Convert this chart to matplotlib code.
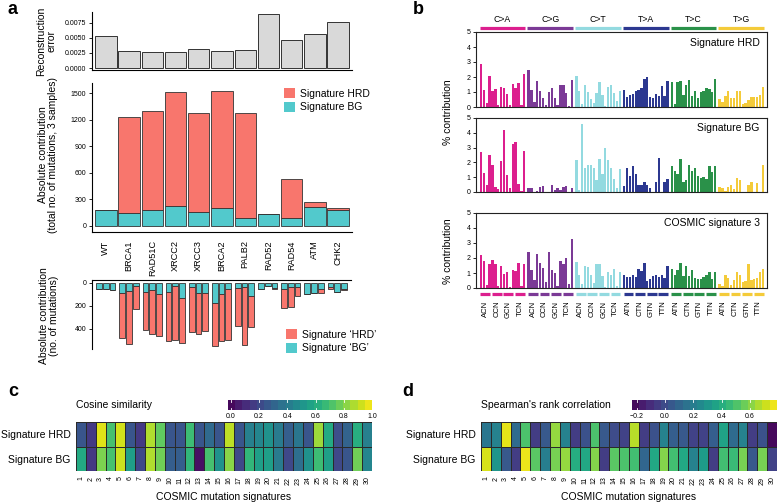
import numpy as np
import matplotlib
matplotlib.use('Agg')
import matplotlib.pyplot as plt
from matplotlib.patches import Patch
import matplotlib.transforms as mtrans

plt.rcParams['font.family'] = ['Liberation Sans', 'DejaVu Sans']

# ---------------- data ----------------
genes = ['WT', 'BRCA1', 'RAD51C', 'XRCC2', 'XRCC3', 'BRCA2', 'PALB2', 'RAD52', 'RAD54', 'ATM', 'CHK2']
recon_error = [0.0053, 0.0028, 0.0027, 0.0027, 0.0032, 0.0029, 0.0030, 0.0089, 0.0047, 0.0056, 0.0077]
total_bg = [180, 150, 185, 225, 155, 200, 95, 130, 85, 210, 175]
total_hrd = [0, 1080, 1120, 1290, 1125, 1330, 1180, 0, 445, 60, 30]

sample_bg = [57, 60, 62, 95, 75, 34, 80, 66, 100, 86, 34, 138, 37, 95, 95, 181, 100, 52,
             46, 43, 115, 52, 29, 49, 57, 43, 37, 100, 95, 52, 43, 86, 52]
sample_hrd = [0, 0, 4, 387, 456, 198, 336, 379, 362, 425, 468, 384, 390, 350, 327, 367, 405, 447,
              327, 497, 267, 0, 0, 3, 164, 167, 78, 0, 0, 43, 14, 0, 14]

mut_types = ['C>A', 'C>G', 'C>T', 'T>A', 'T>C', 'T>G']
mut_colors = ['#DC1F8E', '#7B3A96', '#93DAE0', '#2C3890', '#2A9149', '#F4CB3A']
ctx_c = ['ACN', 'CCN', 'GCN', 'TCN']
ctx_t = ['ATN', 'CTN', 'GTN', 'TTN']

sig_hrd = [2.85, 1.15, 0.25, 2.05, 1.05, 1.2, 0.15, 1.35, 1.25, 0.85, 0.15, 1.55, 1.3, 1.6, 0.15, 2.2,
           2.5, 1.15, 0.35, 1.75, 1.05, 0.6, 0.15, 1.0, 1.3, 0.6, 0.15, 1.45, 1.45, 0.95, 0.1, 1.8,
           2.1, 1.05, 0.2, 1.45, 1.0, 0.55, 0.25, 0.95, 1.7, 0.8, 0.1, 1.35, 1.45, 0.95, 0.4, 1.1,
           1.15, 0.7, 0.8, 0.9, 1.05, 1.15, 1.3, 1.9, 2.0, 0.7, 0.6, 0.9, 0.75, 1.4, 0.75, 1.75,
           1.7, 0.2, 1.7, 1.75, 0.8, 1.45, 1.8, 0.75, 1.1, 0.6, 1.0, 1.1, 1.3, 1.2, 1.0, 1.85,
           0.55, 0.35, 0.75, 1.05, 0.6, 0.6, 1.05, 1.1, 0.2, 0.25, 0.45, 0.65, 0.7, 0.7, 0.8, 1.35]
sig_bg = [2.7, 1.3, 0.45, 2.5, 1.8, 0.35, 0.2, 2.1, 4.2, 1.15, 0.3, 3.25, 3.35, 0.55, 0.05, 2.75,
          0.3, 0.3, 0.02, 0.05, 0.35, 0.4, 0.02, 0.02, 0.45, 0.15, 0.28, 0.15, 0.35, 0.38, 0.02, 0.25,
          2.15, 0.15, 4.6, 1.65, 1.8, 1.8, 1.6, 0.8, 2.25, 1.2, 2.95, 2.15, 1.6, 0.85, 0.25, 1.55,
          0.4, 1.65, 1.05, 1.75, 1.25, 0.45, 0.5, 0.65, 0.5, 0.25, 0.02, 0.65, 2.3, 0.02, 0.65, 0.9,
          1.75, 1.45, 1.25, 2.2, 0.65, 0.8, 1.8, 1.45, 1.6, 1.1, 0.95, 1.0, 0.9, 1.75, 1.35, 1.75,
          0.35, 0.25, 0.1, 0.35, 0.5, 0.2, 0.95, 0.8, 0.02, 0.02, 0.45, 0.65, 0.02, 0.6, 0.02, 1.85]
cosmic3 = [2.2, 1.8, 0.2, 1.6, 1.85, 1.6, 0.15, 1.5, 0.95, 1.05, 0.1, 1.2, 1.15, 1.65, 0.15, 1.6,
           2.4, 1.2, 0.55, 2.3, 1.7, 1.35, 0.4, 2.4, 1.2, 1.0, 0.15, 1.8, 1.6, 2.0, 0.25, 3.25,
           1.75, 0.9, 0.3, 1.5, 1.4, 0.9, 0.35, 1.6, 1.6, 0.8, 0.1, 1.05, 0.9, 1.3, 0.15, 1.05,
           0.85, 0.75, 0.75, 0.85, 0.75, 1.25, 1.15, 1.65, 0.5, 0.6, 0.8, 0.85, 0.75, 0.9, 0.7, 1.5,
           1.3, 0.9, 1.2, 1.7, 0.8, 1.45, 0.8, 1.2, 0.7, 0.6, 0.6, 0.75, 0.9, 1.05, 0.6, 1.1,
           0.25, 0.12, 0.9, 0.7, 0.2, 0.55, 1.05, 0.85, 0.4, 0.45, 1.6, 0.55, 0.6, 0.65, 1.1, 1.3]

cosmic_ids = [str(i) for i in range(1, 31)]
cos_hrd = [0.25, 0.15, 0.95, 0.7, 0.93, 0.25, 0.15, 0.88, 0.75, 0.25, 0.25, 0.68, 0.25, 0.33, 0.25,
           0.9, 0.25, 0.42, 0.45, 0.5, 0.4, 0.28, 0.38, 0.25, 0.85, 0.6, 0.22, 0.3, 0.62, 0.42]
cos_bg = [0.6, 0.15, 0.8, 0.7, 0.92, 0.55, 0.2, 0.88, 0.78, 0.28, 0.28, 0.65, 0.02, 0.7, 0.5,
          0.82, 0.2, 0.65, 0.55, 0.55, 0.4, 0.2, 0.35, 0.5, 0.68, 0.55, 0.2, 0.25, 0.78, 0.45]
sp_hrd = [0.17, 0.22, 0.75, 0.12, 0.5, -0.05, 0.05, 0.63, 0.22, -0.05, 0.02, 0.5, 0.05, 0.0, -0.03,
          0.68, -0.05, 0.02, 0.22, 0.07, 0.05, -0.03, -0.03, 0.07, 0.36, 0.12, 0.22, -0.05, 0.02, -0.21]
sp_bg = [0.73, 0.3, 0.05, -0.05, 0.76, 0.53, 0.2, 0.58, 0.63, 0.4, 0.38, 0.6, -0.05, 0.53, 0.5,
         0.48, 0.1, 0.38, 0.6, 0.48, 0.38, 0.22, 0.33, -0.05, 0.48, 0.46, 0.58, 0.05, 0.58, -0.03]

# ---------------- figure ----------------
W, H = 778, 504
fig = plt.figure(figsize=(W / 100, H / 100), dpi=100)


def axpx(l, t, r, b):
    return fig.add_axes([l / W, 1 - b / H, (r - l) / W, (b - t) / H])


def vlabel(px, py, s):
    fig.text(px / W, 1 - py / H, s, rotation=90, ha='center', va='center',
             fontsize=LAB_FS, linespacing=1.05, multialignment='center')


C_HRD = '#F8766D'
C_BG = '#52C9CC'
EDGE = '#333333'
TICK_FS = 5
LAB_FS = 7.5

# ---------- panel a: reconstruction error ----------
x = np.arange(len(genes))
ax0 = axpx(92, 12, 352, 70)
ax0.bar(x, recon_error, width=0.92, color='#D9D9D9', edgecolor=EDGE, linewidth=0.7)
ax0.set_xlim(-0.6, 10.6)
ax0.set_ylim(-0.00033, 0.0093)
ax0.set_yticks([0, 0.0025, 0.005, 0.0075])
ax0.set_yticklabels(['0.0000', '0.0025', '0.0050', '0.0075'])
ax0.set_xticks([])
for s in ['top', 'right']:
    ax0.spines[s].set_visible(False)
ax0.tick_params(axis='y', labelsize=TICK_FS, length=2, width=0.6, pad=2)
vlabel(46, 41, 'Reconstruction\nerror')

# ---------- panel a: total contribution ----------
ax1 = axpx(92, 83, 352, 232)
ax1.bar(x, total_bg, width=0.92, color=C_BG, edgecolor=EDGE, linewidth=0.6)
ax1.bar(x, total_hrd, bottom=total_bg, width=0.92, color=C_HRD, edgecolor=EDGE, linewidth=0.6)
ax1.set_xlim(-0.6, 10.6)
ax1.set_ylim(-68, 1616)
ax1.set_yticks([0, 300, 600, 900, 1200, 1500])
ax1.set_xticks(x)
ax1.set_xticklabels(genes, rotation=90, fontsize=6.6)
ax1.tick_params(axis='x', length=0, pad=6)
ax1.tick_params(axis='y', labelsize=TICK_FS, length=2, width=0.6, pad=2)
for s in ['top', 'right']:
    ax1.spines[s].set_visible(False)
vlabel(48, 155, 'Absolute contribution\n(total no. of mutations, 3 samples)')
ax1.legend(handles=[Patch(facecolor=C_HRD, edgecolor='none', label='Signature HRD'),
                    Patch(facecolor=C_BG, edgecolor='none', label='Signature BG')],
           loc='upper left', bbox_to_anchor=(284 / W, 1 - 88 / H), bbox_transform=fig.transFigure,
           frameon=False, fontsize=LAB_FS, handlelength=1.1, handleheight=1.1,
           handletextpad=0.4, labelspacing=0.3, borderpad=0, borderaxespad=0)

# ---------- panel a: per sample ----------
ax2 = axpx(92, 280, 351, 349)
offs = [-0.29, 0.0, 0.29]
xs = np.array([g + o for g in range(len(genes)) for o in offs])
ax2.bar(xs, sample_bg, width=0.245, color=C_BG, edgecolor=EDGE, linewidth=0.6)
ax2.bar(xs, sample_hrd, bottom=sample_bg, width=0.245, color=C_HRD, edgecolor=EDGE, linewidth=0.6)
ax2.set_xlim(-0.6, 10.6)
ax2.set_ylim(577, -22)
ax2.set_yticks([0, 200, 400])
ax2.set_xticks([])
for s in ['bottom', 'right']:
    ax2.spines[s].set_visible(False)
ax2.tick_params(axis='y', labelsize=TICK_FS, length=2, width=0.6, pad=2)
vlabel(49, 316, 'Absolute contribution\n(no. of mutations)')
ax2.legend(handles=[Patch(facecolor=C_HRD, edgecolor='none', label='Signature \u2018HRD\u2019'),
                    Patch(facecolor=C_BG, edgecolor='none', label='Signature \u2018BG\u2019')],
           loc='upper left', bbox_to_anchor=(286 / W, 1 - 329 / H), bbox_transform=fig.transFigure,
           frameon=False, fontsize=LAB_FS, handlelength=1.1, handleheight=1.1,
           handletextpad=0.4, labelspacing=0.3, borderpad=0, borderaxespad=0)

# ---------- panel b: profiles ----------
bx = np.array([g * 16.5 + j for g in range(6) for j in range(16)])
bcols = [mut_colors[g] for g in range(6) for j in range(16)]
profiles = [(sig_hrd, 'Signature HRD', (476, 32, 767, 107)),
            (sig_bg, 'Signature BG', (476, 118, 767, 192)),
            (cosmic3, 'COSMIC signature 3', (476, 213, 767, 288))]
baxes = []
for vals, name, pos in profiles:
    ax = axpx(*pos)
    ax.bar(bx, vals, width=0.8, color=bcols, linewidth=0)
    ax.set_xlim(-1.7, 98.9)
    ax.set_ylim(0, 5)
    ax.set_yticks([0, 1, 2, 3, 4, 5])
    ax.tick_params(axis='y', labelsize=TICK_FS, length=2, width=0.6, pad=2)
    ax.set_xticks([])
    for s in ax.spines.values():
        s.set_linewidth(0.8)
        s.set_color('#222222')
    ax.text(0.975, 0.86, name, transform=ax.transAxes, ha='right', va='center', fontsize=LAB_FS)
    baxes.append(ax)

# group header above first profile
axh = baxes[0]
trh = mtrans.blended_transform_factory(axh.transData, axh.transAxes)
for g in range(6):
    x0 = g * 16.5 - 0.4
    x1 = g * 16.5 + 15.4
    axh.plot([x0, x1], [1.055, 1.055], color=mut_colors[g], lw=2.3, solid_capstyle='butt',
             transform=trh, clip_on=False)
    axh.text((x0 + x1) / 2, 1.17, mut_types[g], transform=trh, ha='center', va='center',
             fontsize=6.3)

# bottom context segments and labels for last profile
axl = baxes[2]
trl = mtrans.blended_transform_factory(axl.transData, axl.transAxes)
tick_pos = []
tick_lab = []
for g in range(6):
    ctx = ctx_c if g < 3 else ctx_t
    for k in range(4):
        x0 = g * 16.5 + 4 * k - 0.2
        x1 = g * 16.5 + 4 * k + 3.2
        axl.plot([x0, x1], [-0.08, -0.08], color=mut_colors[g], lw=2.3, solid_capstyle='butt',
                 transform=trl, clip_on=False)
        tick_pos.append(g * 16.5 + 4 * k + 1.5)
        tick_lab.append(ctx[k])
axl.set_xticks(tick_pos)
axl.set_xticklabels(tick_lab, rotation=90, fontsize=5.5)
axl.tick_params(axis='x', length=0, pad=9)

fig.text(448 / W, 1 - 112 / H, '% contribution', rotation=90, ha='center', va='center', fontsize=LAB_FS)
fig.text(448 / W, 1 - 251 / H, '% contribution', rotation=90, ha='center', va='center', fontsize=LAB_FS)

# ---------- panels c, d: heatmaps ----------
def heatmap(l, r, rows, vmin, vmax, title, cb_l, cb_r, cb_ticks, cb_labels):
    ax = axpx(l, 422, r, 471)
    data = np.array(rows)
    ax.pcolormesh(np.arange(31), np.arange(3), data, cmap='viridis', vmin=vmin, vmax=vmax,
                  edgecolors='#2a2a2a', linewidth=0.4)
    ax.set_xlim(0, 30)
    ax.set_ylim(2, 0)
    ax.set_yticks([0.5, 1.5])
    ax.set_yticklabels(['Signature HRD', 'Signature BG'], fontsize=LAB_FS)
    ax.set_xticks(np.arange(30) + 0.5)
    ax.set_xticklabels(cosmic_ids, rotation=90, fontsize=TICK_FS)
    ax.tick_params(length=0)
    ax.tick_params(axis='x', pad=4)
    ax.tick_params(axis='y', pad=4)
    for s in ax.spines.values():
        s.set_visible(False)
    ax.set_xlabel('COSMIC mutation signatures', fontsize=LAB_FS, labelpad=5)
    # colourbar
    cax = axpx(cb_l, 400, cb_r, 410)
    nb = 20
    steps = vmin + (np.arange(nb) + 0.5) * (vmax - vmin) / nb
    cax.imshow(steps[np.newaxis, :], cmap='viridis', vmin=vmin, vmax=vmax, aspect='auto',
               extent=[vmin, vmax, 0, 1], interpolation='nearest')
    cax.set_xlim(vmin, vmax)
    cax.set_ylim(0, 1)
    cax.set_yticks([])
    cax.set_xticks(cb_ticks)
    cax.set_xticklabels(cb_labels, fontsize=TICK_FS)
    cax.tick_params(axis='x', length=0, pad=2)
    for t in cb_ticks:
        cax.plot([t, t], [0, 0.2], color='white', lw=0.6)
        cax.plot([t, t], [0.8, 1], color='white', lw=0.6)
    for s in cax.spines.values():
        s.set_visible(False)
    fig.text(l / W, 1 - 405 / H, title, ha='left', va='center', fontsize=LAB_FS)
    return ax


heatmap(76, 372, [cos_hrd, cos_bg], -0.02, 1.0, 'Cosine similarity', 228, 372,
        [0, 0.2, 0.4, 0.6, 0.8, 1.0], ['0.0', '0.2', '0.4', '0.6', '0.8', '1.0'])
heatmap(481, 777, [sp_hrd, sp_bg], -0.233, 0.79, "Spearman's rank correlation", 632, 777,
        [-0.2, 0, 0.2, 0.4, 0.6], ['\u22120.2', '0.0', '0.2', '0.4', '0.6'])

# ---------- panel letters ----------
for lab, px, py in [('a', 8, 9), ('b', 413, 9), ('c', 8, 392), ('d', 402, 392)]:
    fig.text(px / W, 1 - py / H, lab, fontsize=13, fontweight='bold', ha='left', va='center')

fig.savefig('out.png', dpi=100)
